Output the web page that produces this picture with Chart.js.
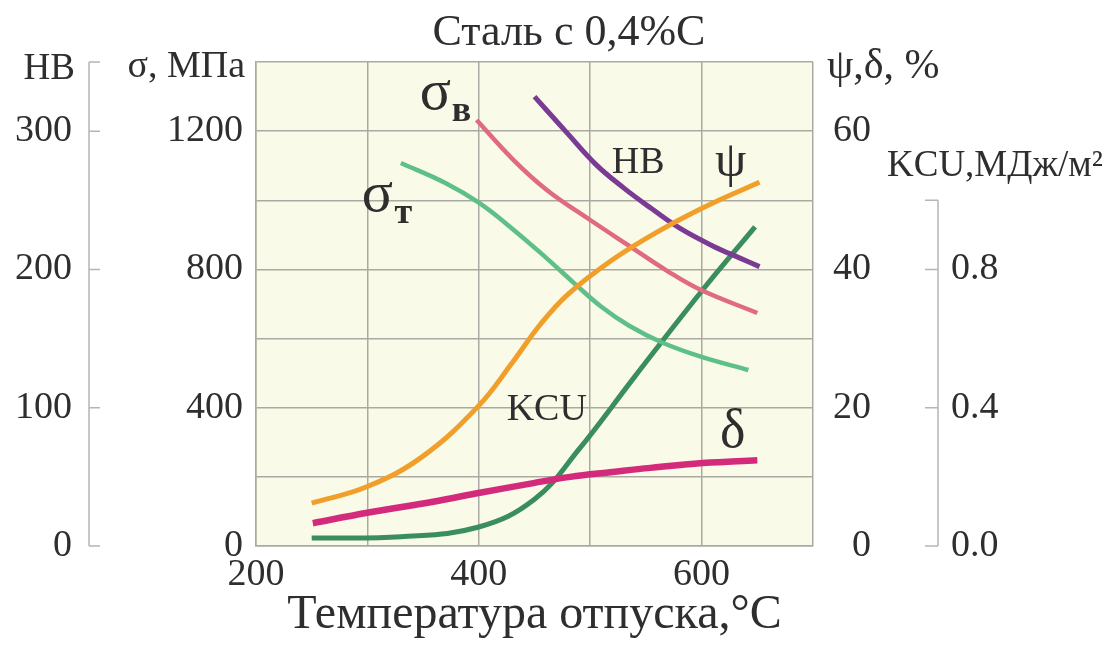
<!DOCTYPE html>
<html>
<head>
<meta charset="utf-8">
<script src="https://cdn.jsdelivr.net/npm/chart.js@4.4.1/dist/chart.umd.min.js"></script>
<style>
  html, body { margin: 0; padding: 0; background: #ffffff; }
  #c { display: block; }
</style>
</head>
<body>
<canvas id="c" width="1120" height="645"></canvas>
<script>
// ---------- DATA ----------
const chartTitle = 'Сталь с 0,4%С';
const xTitle = 'Температура отпуска,°С';

// Tensile strength σв, MPa
const sigmaB_T = [398, 431, 461, 500, 536, 569, 599, 650];
const sigmaB   = [1232, 1117, 1030, 943, 866, 796, 741, 674];

// Yield strength σт, MPa
const sigmaT_T = [330, 370, 400, 430, 460, 485, 510, 535, 565, 600, 642];
const sigmaT   = [1108, 1050, 993, 918, 835, 762, 692, 637, 588, 547, 509];

// Hardness HB
const hb_T = [450, 480, 505, 530, 555, 580, 610, 635, 652];
const hb   = [325, 298, 276, 259, 244, 230, 217, 208, 202];

// Reduction of area ψ, %
const psi_T = [250, 300, 350, 400, 430, 455, 480, 520, 560, 605, 652];
const psi   = [6.2, 8.6, 13.0, 20.3, 26.5, 32.0, 36.4, 41.4, 45.4, 49.2, 52.6];

// Elongation δ, %
const delta_T = [251, 300, 359, 401, 449, 482, 520, 554, 601, 650];
const delta   = [3.3, 4.8, 6.4, 7.7, 9.1, 10.0, 10.7, 11.3, 12.0, 12.4];

// Impact toughness KCU, MJ/m²
const kcu_T = [250, 330, 400, 450, 490, 540, 600, 648];
const kcu   = [0.023, 0.027, 0.055, 0.135, 0.28, 0.49, 0.737, 0.923];

// Axis tick label sets
const xTickLabels = [200, 400, 600];
const sigmaTickLabels = [0, 400, 800, 1200];
const hbTickLabels = [0, 100, 200, 300];
const hbTickMarks = [0, 100, 200, 300, 350];
const psiTickLabels = [0, 20, 40, 60];
const kcuTickLabels = [0, 0.4, 0.8];
const kcuTickMarks = [0, 0.4, 0.8, 1.0];

// Curve labels (anchored in data coordinates: temperature, MPa-equivalent)
const curveLabelText = ['σ', 'σ', 'HB', 'ψ', 'KCU', 'δ'];
const curveLabelSub  = ['в', 'т', '', '', '', ''];
const curveLabelT    = [361, 309, 543, 626, 461, 628];
const curveLabelV    = [1302, 1007, 1108, 1108, 393, 327];

// ---------- STYLE ----------
const SERIF = '"Liberation Serif", "DejaVu Serif", serif';
const TEXT = '#2e2e2e';
const GRID = '#aaaaa2';
const AXIS = '#b5b5b5';
const colors = {
  sigmaB: '#e06a82', sigmaT: '#5ebf88', hb: '#7a3b94',
  psi: '#f0a02a', delta: '#d42a7c', kcu: '#3a8d5d'
};
const labelFonts = [58, 58, 38, 50, 38, 54];

function pts(T, V) { return T.map((t, i) => ({ x: t, y: V[i] })); }
function ds(label, T, V, color, axis, width) {
  return {
    label, data: pts(T, V), yAxisID: axis,
    borderColor: color, borderWidth: width, pointRadius: 0,
    tension: 0.4, fill: false,
    borderCapStyle: 'butt', borderJoinStyle: 'round'
  };
}
const near = (arr, v) => arr.some(a => Math.abs(a - v) < 1e-6);

const bgPlugin = {
  id: 'bg',
  beforeDraw(chart) {
    const { ctx, chartArea: a } = chart;
    ctx.save();
    ctx.fillStyle = '#fafae8';
    ctx.fillRect(a.left, a.top, a.right - a.left, a.bottom - a.top);
    ctx.restore();
  }
};

const axesPlugin = {
  id: 'extraAxes',
  afterDraw(chart) {
    const ctx = chart.ctx;
    const s = chart.scales;
    const area = chart.chartArea;
    ctx.save();
    ctx.strokeStyle = AXIS;
    ctx.lineWidth = 1.5;
    // HB axis: line with ticks pointing right
    const hx = s.hb.right - 11;
    ctx.beginPath();
    ctx.moveTo(hx, s.hb.getPixelForValue(0));
    ctx.lineTo(hx, s.hb.getPixelForValue(350));
    hbTickMarks.forEach(v => {
      const y = s.hb.getPixelForValue(v);
      ctx.moveTo(hx, y); ctx.lineTo(hx + 11, y);
    });
    ctx.stroke();
    // KCU axis: line with ticks pointing left
    const kx = s.kcu.left + 67;
    ctx.beginPath();
    ctx.moveTo(kx, s.kcu.getPixelForValue(0));
    ctx.lineTo(kx, s.kcu.getPixelForValue(1.0));
    kcuTickMarks.forEach(v => {
      const y = s.kcu.getPixelForValue(v);
      ctx.moveTo(kx - 13, y); ctx.lineTo(kx, y);
    });
    ctx.stroke();

    ctx.fillStyle = TEXT;
    ctx.textBaseline = 'alphabetic';
    // Chart title
    ctx.font = '44px ' + SERIF;
    ctx.textAlign = 'center';
    ctx.fillText(chartTitle, chart.width * 0.508, area.top - 17);

    // Axis titles
    ctx.font = '37px ' + SERIF;
    ctx.textAlign = 'right';
    ctx.fillText('HB', s.hb.right - 25, area.top + 17);
    ctx.font = '38px ' + SERIF;
    ctx.fillText('σ, МПа', area.left - 11, area.top + 15);
    ctx.textAlign = 'left';
    ctx.font = '42px ' + SERIF;
    ctx.fillText('ψ,δ, %', area.right + 14, area.top + 16);
    ctx.font = '37px ' + SERIF;
    ctx.fillText('KCU,МДж/м²', s.kcu.left + 16, s.y.getPixelForValue(1108) + 13);

    // Curve labels
    ctx.textAlign = 'center';
    ctx.textBaseline = 'middle';
    curveLabelText.forEach((t, i) => {
      const x = s.x.getPixelForValue(curveLabelT[i]);
      const y = s.y.getPixelForValue(curveLabelV[i]);
      ctx.font = labelFonts[i] + 'px ' + SERIF;
      ctx.fillText(t, x, y - (t === 'σ' ? 2 : 0));
      if (curveLabelSub[i]) {
        ctx.font = 'bold 36px ' + SERIF;
        ctx.fillText(curveLabelSub[i], x + 26, y + 16);
      }
    });
    ctx.restore();
  }
};

const tickFont = { family: SERIF, size: 38 };
const hiddenTicks = { display: true, drawOnChartArea: false, drawTicks: true, color: 'rgba(0,0,0,0)' };

new Chart(document.getElementById('c'), {
  type: 'line',
  data: {
    datasets: [
      ds('δ', delta_T, delta, colors.delta, 'psi', 6.5),
      ds('ψ', psi_T, psi, colors.psi, 'psi', 5),
      ds('σт', sigmaT_T, sigmaT, colors.sigmaT, 'y', 4.5),
      ds('σв', sigmaB_T, sigmaB, colors.sigmaB, 'y', 4.5),
      ds('HB', hb_T, hb, colors.hb, 'hb', 5),
      ds('KCU', kcu_T, kcu, colors.kcu, 'kcu', 5)
    ]
  },
  options: {
    responsive: false,
    animation: false,
    layout: { padding: { left: 0, right: 0, top: 62, bottom: 0 } },
    plugins: {
      legend: { display: false },
      tooltip: { enabled: false },
      title: { display: false }
    },
    scales: {
      x: {
        type: 'linear', min: 200, max: 700,
        ticks: {
          stepSize: 100, autoSkip: false, maxRotation: 0, padding: 6,
          color: TEXT, font: tickFont,
          callback: v => near(xTickLabels, v) ? String(v) : ''
        },
        grid: { color: GRID, lineWidth: 1.5, drawTicks: false },
        border: { color: GRID, width: 1.5 },
        title: {
          display: true, text: xTitle, color: TEXT,
          font: { family: SERIF, size: 48, lineHeight: 1 },
          padding: { top: 0, bottom: 6 }
        },
        afterFit: sc => { sc.height = 99; }
      },
      y: {
        position: 'left', min: 0, max: 1400,
        ticks: {
          stepSize: 200, padding: 13, color: TEXT, font: tickFont,
          callback: v => near(sigmaTickLabels, v) ? String(v) : ''
        },
        grid: { color: GRID, lineWidth: 1.5, drawTicks: false },
        border: { color: GRID, width: 1.5 },
        afterFit: sc => { sc.width = 156; }
      },
      hb: {
        position: 'left', weight: 1, min: 0, max: 350,
        ticks: {
          stepSize: 100, padding: 6, color: TEXT, font: tickFont,
          callback: v => near(hbTickLabels, v) ? String(v) : ''
        },
        grid: Object.assign({ tickLength: 22 }, hiddenTicks),
        border: { display: false },
        afterFit: sc => { sc.width = 100; }
      },
      psi: {
        position: 'right', min: 0, max: 70,
        ticks: {
          stepSize: 20, crossAlign: 'far', padding: 10, color: TEXT, font: tickFont,
          callback: v => near(psiTickLabels, v) ? String(v) : ''
        },
        grid: { display: false }, border: { display: false },
        afterFit: sc => { sc.width = 58; }
      },
      kcu: {
        position: 'right', weight: 1, min: 0, max: 1.4,
        ticks: {
          stepSize: 0.4, padding: 10, color: TEXT, font: tickFont,
          callback: v => near(kcuTickLabels, v) ? v.toFixed(1) : ''
        },
        grid: Object.assign({ tickLength: 70 }, hiddenTicks),
        border: { display: false },
        afterFit: sc => { sc.width = 249; }
      }
    }
  },
  plugins: [bgPlugin, axesPlugin]
});
</script>
</body>
</html>
